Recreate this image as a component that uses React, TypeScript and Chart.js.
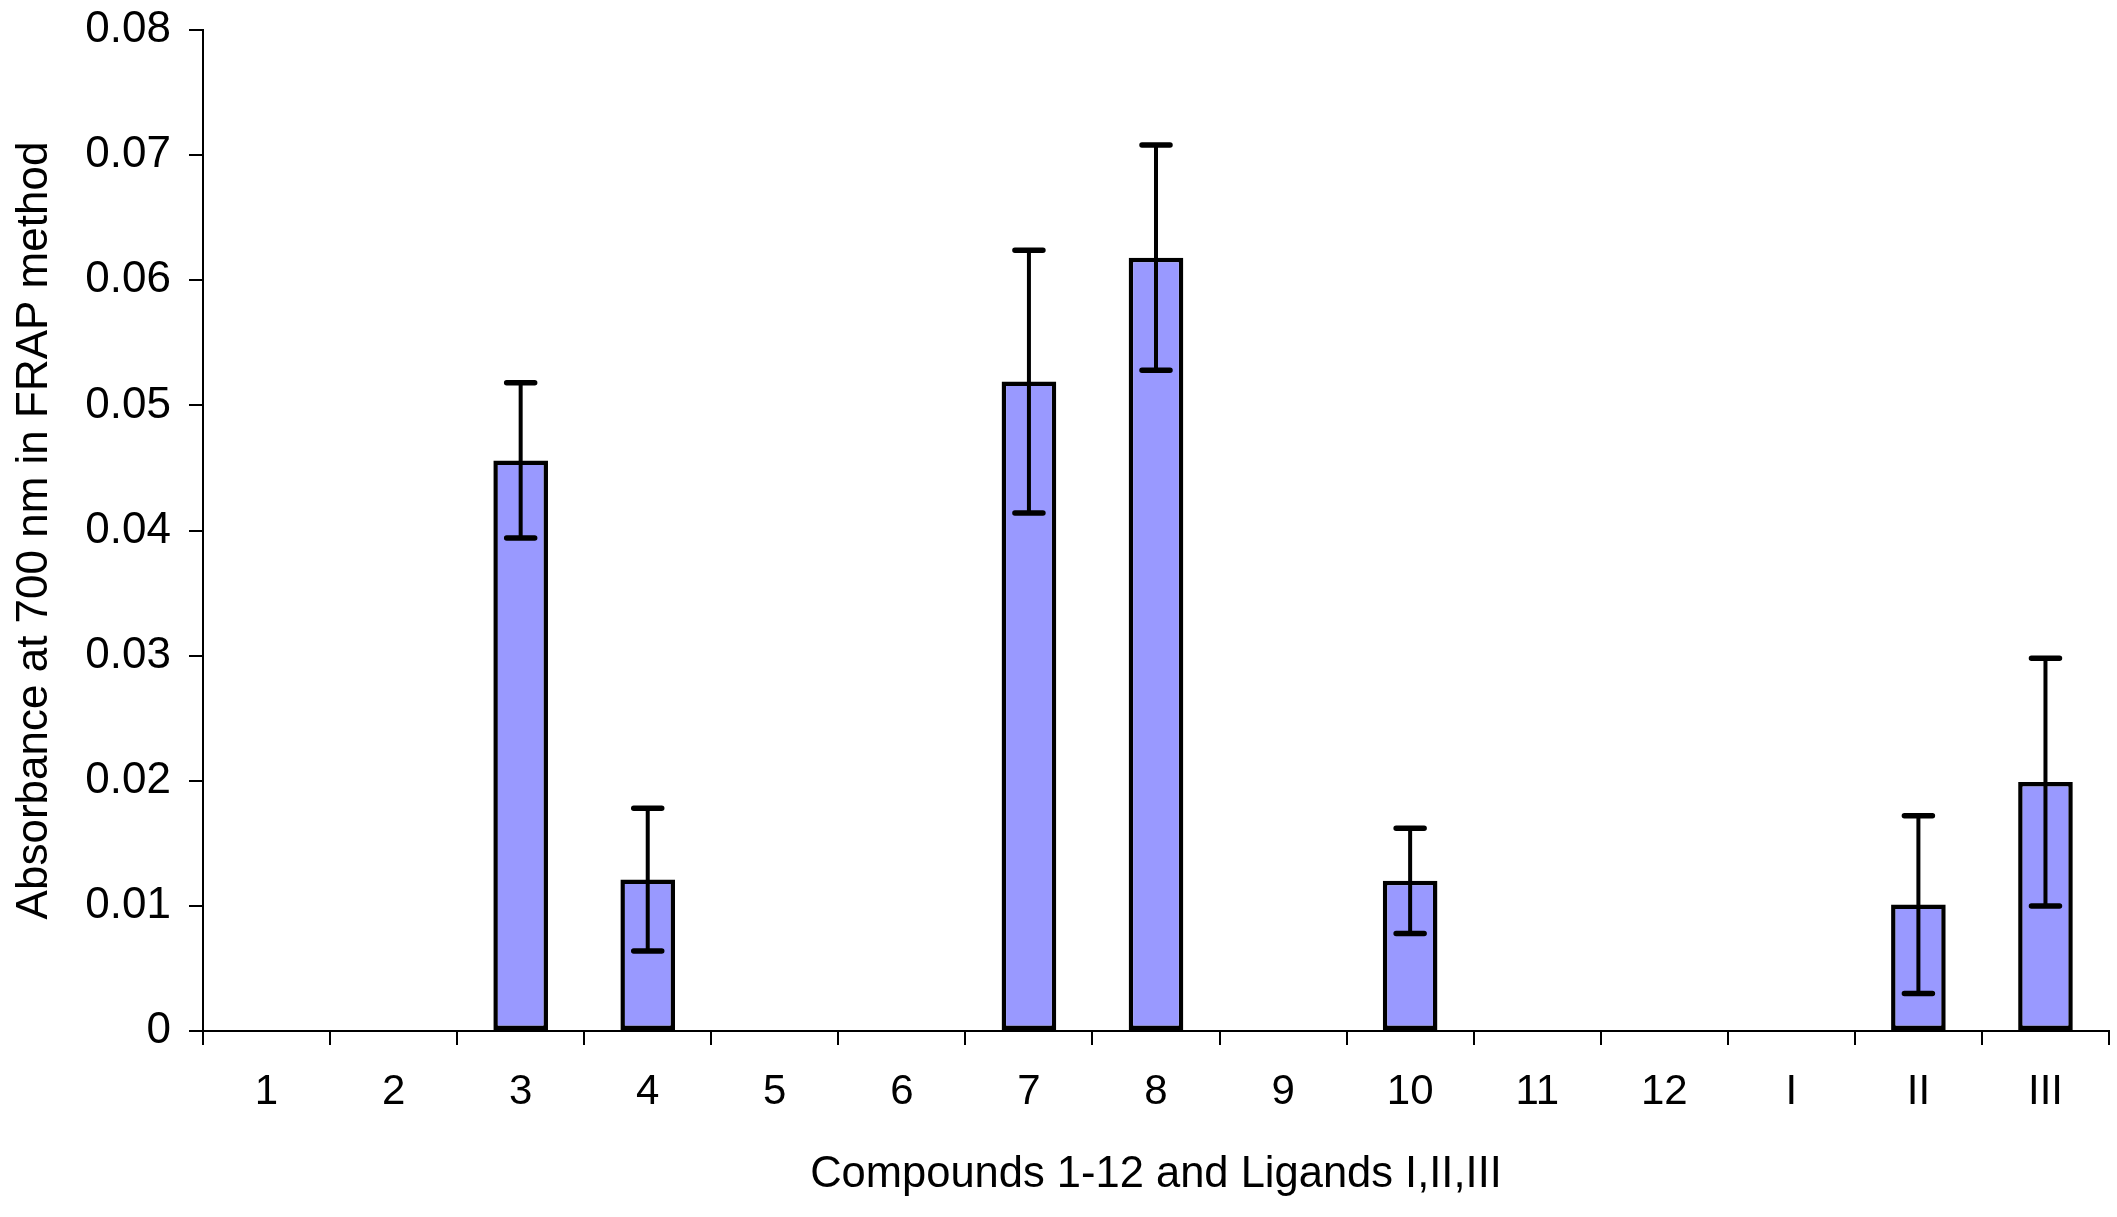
import React, { useEffect, useRef } from "react";
import { Chart, registerables } from "chart.js";

Chart.register(...registerables);

// compounds 1-12 and ligands I, II, III
const categories = ["1", "2", "3", "4", "5", "6", "7", "8", "9", "10", "11", "12", "I", "II", "III"];
// absorbance at 700 nm (null = no bar)
const absorbance = [null, null, 0.0456, 0.0121, null, null, 0.0519, 0.0618, null, 0.012, null, null, null, 0.0101, 0.0199];
// +/- error
const errors = [null, null, 0.0062, 0.0057, null, null, 0.0105, 0.009, null, 0.0042, null, null, null, 0.0071, 0.0099];
const yTicks = [0, 0.01, 0.02, 0.03, 0.04, 0.05, 0.06, 0.07, 0.08];

const FONT = "'Liberation Sans', Arial, Helvetica, sans-serif";

const errorBars = {
  id: "errorBars",
  afterDatasetsDraw(chart: any) {
    const ctx = chart.ctx as CanvasRenderingContext2D;
    const meta = chart.getDatasetMeta(0);
    const yScale = chart.scales.y;
    ctx.save();
    ctx.strokeStyle = "#000";
    meta.data.forEach((bar: any, i: number) => {
      const v = absorbance[i];
      const e = errors[i];
      if (v == null || e == null) return;
      const x = bar.x;
      const top = yScale.getPixelForValue(v + e);
      const bottom = yScale.getPixelForValue(v - e);
      ctx.lineWidth = 4;
      ctx.lineCap = "butt";
      ctx.beginPath();
      ctx.moveTo(x, top);
      ctx.lineTo(x, bottom);
      ctx.stroke();
      ctx.lineWidth = 5.5;
      ctx.lineCap = "round";
      ctx.beginPath();
      ctx.moveTo(x - 14, top);
      ctx.lineTo(x + 14, top);
      ctx.moveTo(x - 14, bottom);
      ctx.lineTo(x + 14, bottom);
      ctx.stroke();
    });
    ctx.restore();
  },
};

const App: React.FC = () => {
  const canvasRef = useRef<HTMLCanvasElement | null>(null);
  const chartRef = useRef<Chart<"bar"> | null>(null);

  useEffect(() => {
    document.body.style.margin = "0";
    if (!canvasRef.current) return;
    const ctx = canvasRef.current.getContext("2d");
    if (!ctx) return;
    if (chartRef.current) chartRef.current.destroy();

    chartRef.current = new Chart(ctx, {
      type: "bar",
      data: {
        labels: categories,
        datasets: [
          {
            data: absorbance as any,
            backgroundColor: "#9999FF",
            borderColor: "#000000",
            borderWidth: 4.5,
            borderSkipped: false,
            categoryPercentage: 1,
            barPercentage: 0.43,
          },
        ],
      },
      options: {
        responsive: true,
        maintainAspectRatio: false,
        animation: false,
        layout: { padding: { top: 30, right: 8, bottom: 0, left: 0 } },
        plugins: {
          legend: { display: false },
          tooltip: { enabled: false },
        },
        scales: {
          x: {
            grid: {
              offset: true,
              drawOnChartArea: false,
              drawTicks: true,
              tickLength: 14,
              color: "#000",
              lineWidth: 2,
            },
            border: { display: true, color: "#000", width: 2 },
            ticks: {
              color: "#000",
              padding: 22,
              maxRotation: 0,
              autoSkip: false,
              font: { family: FONT, size: 42 },
            },
            title: {
              display: true,
              text: "Compounds 1-12 and Ligands I,II,III",
              color: "#000",
              padding: { top: 0, bottom: 16 },
              font: { family: FONT, size: 43.5 },
            },
            afterFit(scale: any) {
              scale.height = 186;
              scale.paddingLeft = 0;
              scale.paddingRight = 0;
            },
          },
          y: {
            min: 0,
            max: 0.08,
            afterBuildTicks(scale: any) {
              scale.ticks = yTicks.map((v) => ({ value: v }));
            },
            grid: {
              drawOnChartArea: false,
              drawTicks: true,
              tickLength: 14,
              color: "#000",
              lineWidth: 2,
            },
            border: { display: true, color: "#000", width: 2 },
            ticks: {
              color: "#000",
              padding: 18,
              font: { family: FONT, size: 44 },
              callback: (v: any) => (Number(v) === 0 ? "0" : Number(v).toFixed(2)),
            },
            title: {
              display: true,
              text: "Absorbance at 700 nm in FRAP method",
              color: "#000",
              padding: { top: 8, bottom: 0 },
              font: { family: FONT, size: 44 },
            },
            afterFit(scale: any) {
              scale.width = 203;
              scale.paddingTop = 0;
              scale.paddingBottom = 0;
            },
          },
        },
      },
      plugins: [errorBars],
    });

    return () => {
      if (chartRef.current) {
        chartRef.current.destroy();
        chartRef.current = null;
      }
    };
  }, []);

  return (
    <div style={{ position: "relative", width: "2117px", height: "1217px", background: "#fff" }}>
      <canvas ref={canvasRef}></canvas>
    </div>
  );
};

export default App;
